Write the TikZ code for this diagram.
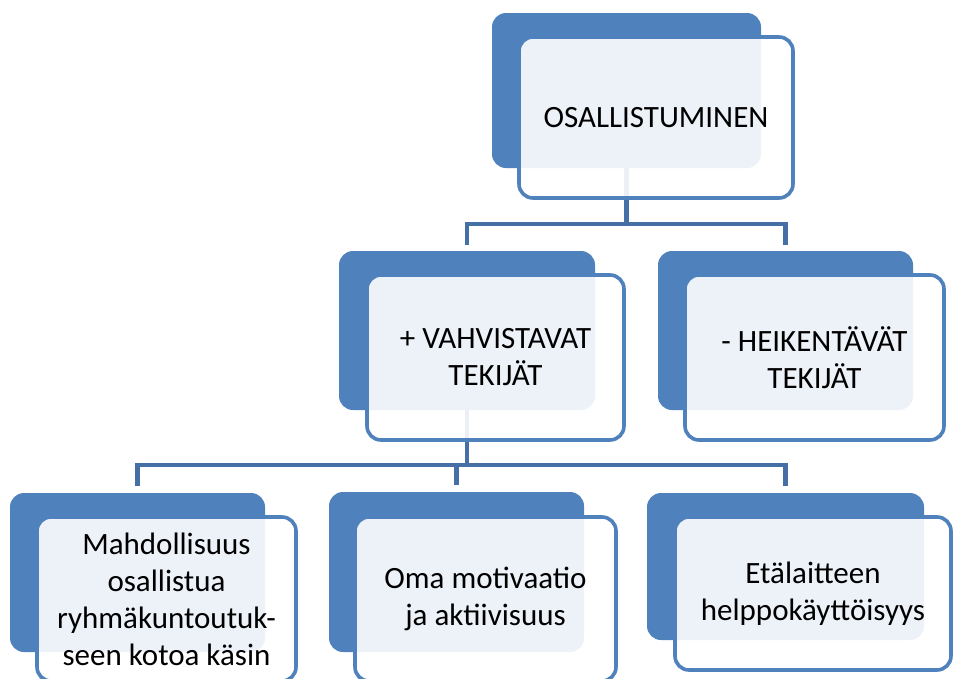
\documentclass[tikz,border=0pt]{standalone}
\usepackage{fontspec}
\setmainfont{Carlito}
\usepackage{tikz}
\usetikzlibrary{backgrounds}
\definecolor{BoxBlue}{HTML}{4F81BD}
\definecolor{LinkBlue}{HTML}{4470A5}

\tikzset{
  backbox/.style={fill=BoxBlue, draw=none, rounded corners=14pt, inner sep=0pt},
  frontbox/.style={fill=white, fill opacity=0.9, text opacity=1, draw=BoxBlue,
    line width=3.6pt, rounded corners=14pt, inner sep=0pt, align=center,
    font=\fontsize{31}{37}\selectfont},
  conn/.style={draw=LinkBlue, line width=4.5pt}
}

\begin{document}
\begin{tikzpicture}[x=1pt, y=-1pt]
  \useasboundingbox (0,0) rectangle (953,678);
  % back cards
  \node[backbox, minimum width=269pt, minimum height=155pt] (root-b)   at (626.5,90.5) {};
  \node[backbox, minimum width=256pt, minimum height=159pt] (plus-b)   at (467,330.5) {};
  \node[backbox, minimum width=255pt, minimum height=159pt] (minus-b)  at (785.5,330.5) {};
  \node[backbox, minimum width=255pt, minimum height=159pt] (chance-b) at (137.5,572.5) {};
  \node[backbox, minimum width=255pt, minimum height=160pt] (motiv-b)  at (456.5,572) {};
  \node[backbox, minimum width=277pt, minimum height=147pt] (device-b) at (785.5,566.5) {};
  % front cards with the texts
  \node[frontbox, minimum width=274pt, minimum height=161pt] (root)   at (656,117.5) {OSALLISTUMINEN};
  \node[frontbox, minimum width=257pt, minimum height=165pt] (plus)   at (495.5,357.5) {+ VAHVISTAVAT\\TEKIJÄT};
  \node[frontbox, minimum width=259pt, minimum height=165pt] (minus)  at (814.5,357.5) {- HEIKENTÄVÄT\\TEKIJÄT};
  \node[frontbox, minimum width=259pt, minimum height=164pt] (chance) at (166.5,599) {Mahdollisuus\\osallistua\\ryhmäkuntoutuk-\\seen kotoa käsin};
  \node[frontbox, minimum width=261pt, minimum height=164pt] (motiv)  at (485.5,599) {Oma motivaatio\\ja aktiivisuus};
  \node[frontbox, minimum width=276pt, minimum height=153pt] (device) at (813,593.5) {Etälaitteen\\helppokäyttöisyys};
  % connectors
  \coordinate (bar1) at (0,224);
  \coordinate (bar2) at (0,465);
  \begin{pgfonlayer}{background}
    \foreach \c in {plus,minus}
      \draw[conn, shorten >=6pt] (root-b.center) -- (root-b.center |- bar1) -| (\c-b.north);
    \foreach \c in {chance,motiv,device}
      \draw[conn, shorten >=7pt] (plus-b.center) -- (plus-b.center |- bar2) -| (\c-b.north);
  \end{pgfonlayer}
\end{tikzpicture}
\end{document}
